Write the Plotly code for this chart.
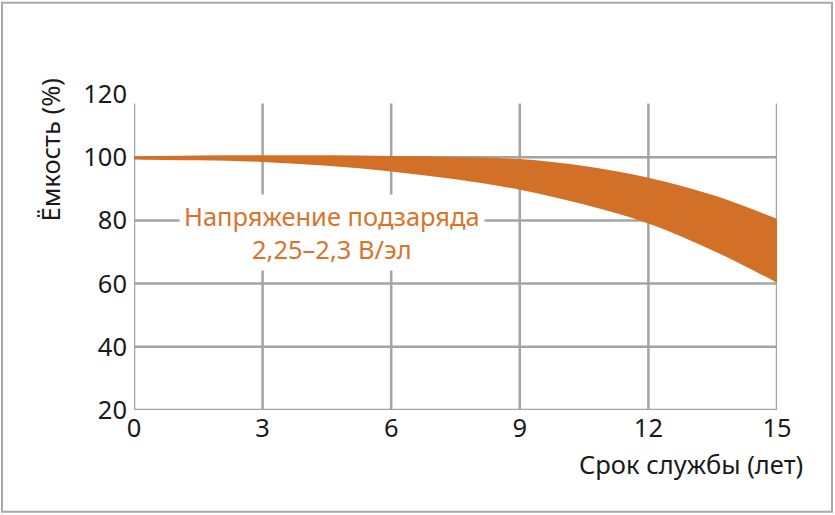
import plotly.graph_objects as go

years = [0, 1.5, 3, 4.5, 6, 7.5, 9, 10.5, 12, 13.5, 15]
cap_upper = [100.3, 100.5, 100.6, 100.6, 100.4, 100.1, 99.4, 97.2, 93.5, 88.0, 80.5]
cap_lower = [99.3, 99.0, 98.5, 97.3, 95.5, 93.0, 89.7, 85.0, 79.0, 70.5, 60.3]
x_ticks = [0, 3, 6, 9, 12, 15]
y_ticks = [20, 40, 60, 80, 100, 120]

ORANGE = "#D37027"
GRID = "#a4a4a4"
FONT = "Noto Sans"
FS = 25.5

fig = go.Figure()
fig.add_trace(go.Scatter(x=years, y=cap_upper, mode="lines", line=dict(width=0, shape="spline", color=ORANGE),
                         hoverinfo="skip", showlegend=False))
fig.add_trace(go.Scatter(x=years, y=cap_lower, mode="lines", line=dict(width=0, shape="spline", color=ORANGE),
                         fill="tonexty", fillcolor=ORANGE, hoverinfo="skip", showlegend=False))

shapes = []
for v in [40, 60, 80, 100]:
    shapes.append(dict(type="line", xref="x", yref="y", x0=0, x1=15, y0=v, y1=v,
                       line=dict(color=GRID, width=2.5), layer="below"))
for v in x_ticks:
    shapes.append(dict(type="line", xref="x", yref="y", x0=v, x1=v, y0=20, y1=117,
                       line=dict(color=GRID, width=2.5), layer="below"))
shapes.append(dict(type="line", xref="x", yref="y", x0=0, x1=15, y0=20, y1=20,
                   line=dict(color=GRID, width=2.5), layer="below"))
# outer frame
L, T, W, H = 134, 93.5, 643, 316.5
def px(xp): return (xp - L) / W
def py(yp): return (T + H - yp) / H
shapes.append(dict(type="rect", xref="paper", yref="paper", x0=px(2), x1=px(832), y0=py(512), y1=py(2),
                   line=dict(color="#a8a8a8", width=2), layer="below"))

annotations = [
    dict(x=4.61, y=76.3, xref="x", yref="y", text="Напряжение подзаряда<br>2,25–2,3 В/эл",
         showarrow=False, font=dict(family=FONT, size=FS, color="#D9742C"),
         bgcolor="white", borderpad=4, align="center"),
    dict(x=px(805), y=py(464), xref="paper", yref="paper", text="Срок службы (лет)",
         showarrow=False, xanchor="right", yanchor="middle",
         font=dict(family=FONT, size=FS, color="#1a1a1a")),
    dict(x=px(50), y=py(150), xref="paper", yref="paper", text="Ёмкость (%)", textangle=-90,
         showarrow=False, xanchor="center", yanchor="middle",
         font=dict(family=FONT, size=FS, color="#1a1a1a")),
]

fig.update_layout(
    width=835, height=515,
    margin=dict(l=L, r=835 - L - W, t=T, b=515 - T - H, pad=0),
    paper_bgcolor="white", plot_bgcolor="white",
    shapes=shapes, annotations=annotations,
    font=dict(family=FONT, color="#1a1a1a"),
    xaxis=dict(range=[0, 15], tickvals=x_ticks, showgrid=False, zeroline=False, showline=False,
               ticks="", tickfont=dict(size=FS, family=FONT, color="#1a1a1a"), ticklabelstandoff=0,
               fixedrange=True),
    yaxis=dict(range=[20, 120], tickvals=y_ticks, showgrid=False, zeroline=False, showline=False,
               ticks="", tickfont=dict(size=FS, family=FONT, color="#1a1a1a"), ticklabelstandoff=6,
               fixedrange=True),
)

fig.write_html("out.html", config={"displayModeBar": False},
               post_script="document.body.style.margin='0';document.body.style.overflow='hidden';")
